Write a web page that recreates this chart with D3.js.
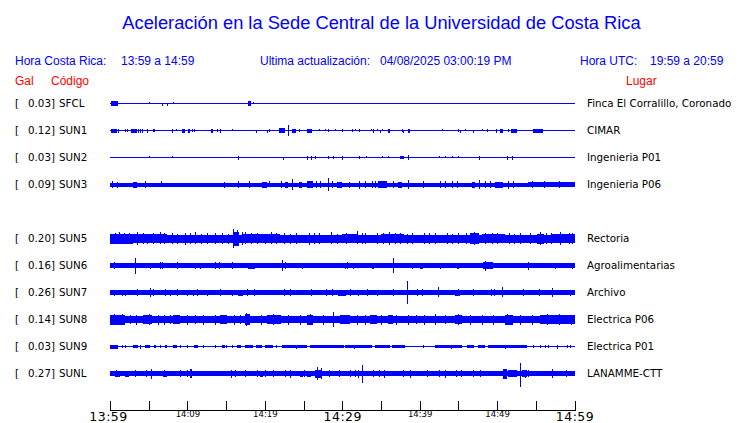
<!DOCTYPE html>
<html><head><meta charset="utf-8">
<script src="https://cdn.jsdelivr.net/npm/d3@7"></script>
<style>body{margin:0;background:#fff}svg{display:block}</style>
</head><body>
<script>
// ---------- DATA ----------
const title = "Aceleración en la Sede Central de la Universidad de Costa Rica";
const localLabel = "Hora Costa Rica:", localRange = "13:59 a 14:59";
const updLabel = "Ultima actualización:", updValue = "04/08/2025 03:00:19 PM";
const utcLabel = "Hora UTC:", utcRange = "19:59 a 20:59";

// row order of the display (SUN4 has no trace)
const rowOrder = ["SFCL","SUN1","SUN2","SUN3","SUN4","SUN5","SUN6","SUN7","SUN8","SUN9","SUNL"];
const codes  = ["SFCL","SUN1","SUN2","SUN3","SUN5","SUN6","SUN7","SUN8","SUN9","SUNL"];
const gals   = [0.03, 0.12, 0.03, 0.09, 0.20, 0.16, 0.26, 0.14, 0.03, 0.27];
const places = ["Finca El Corralillo, Coronado","CIMAR","Ingenieria P01","Ingenieria P06","Rectoria",
                "Agroalimentarias","Archivo","Electrica P06","Electrica P01","LANAMME-CTT"];

// background noise envelope (relative amplitude) per trace
const bases = [0, 0, 0, 1.5, 3.5, 1.7, 1.8, 3.2, 0, 2];

// bursts: [start minute, end minute, envelope amplitude]
const bursts = [
  [[0.1,1.0,2],[17.8,18.2,2]],
  [[0.1,0.9,1.5],[2.7,3.5,1.5],[9.3,9.7,1.5],[10.1,10.3,1.5],[13.0,13.3,1.5],[21.8,22.6,2],[23.5,24.0,1.5],
   [25.4,26.1,1.5],[35.9,36.2,1.5],[38.5,38.7,1.5],[49.9,50.0,1.5],[50.4,50.8,1.5],[51.8,52.6,1.5],[54.6,55.9,1.5]],
  [[25.4,25.6,1.5],[26.0,26.1,1.5],[37.5,38.0,1]],
  [[3.0,3.5,2.5],[19.6,20.3,2.5],[22.6,23.0,2.5],[24.4,24.8,2.5],[25.4,26.2,3],[29.3,30.0,2.5],[34.6,35.8,3],
   [37.2,37.7,2.5],[46.8,47.2,2.5],[49.7,50.8,2.5],[54,60,2]],
  [[0,3,4.5],[3,7.4,4],[16,16.6,6.5],[17,22,4],[30,32,4.2],[35,38,4.2],[46.5,47.6,5],[48,51,4.2],
   [55.2,56,4.5],[57,60,4.2]],
  [[17.8,18.7,2.5],[40,40.4,2.5],[48.2,49.5,3]],
  [[16.5,17.2,2.5],[19.8,21.6,2.3],[24.5,26.8,2.3],[29.5,30.5,2.5],[37.5,38.8,2.3],[44.6,45.2,2.5]],
  [[0,2,4.5],[4.3,5.4,4.2],[8.2,9.1,4],[14.2,15.1,3.8],[17.4,18.1,5],[20.3,22.1,4],[25.4,26.2,4.5],
   [29.7,31.0,4],[33.6,34.5,4],[35.9,36.6,4],[44.5,45.5,4],[51,52,4.5],[55.5,60,3.8]],
  [[0,1.0,1.5],[3.0,3.6,1],[4.5,5.2,1],[5.7,6.0,1],[7.1,7.3,1],[8.1,8.7,1],[10.8,11.4,1],
   [14.5,14.8,1],[16.4,16.9,1],[17.5,18.5,1],[18.8,19.6,1],[20.0,21.0,1],[22.2,25.5,1],
   [25.8,30.2,1],[30.4,33.8,1],[34.2,36.2,1],[36.4,38.1,1],[42.0,45.5,1],[46.1,47.0,1],
   [47.5,48.4,1],[48.8,50.0,1],[50.0,53.9,1]],
  [[0.6,1.3,2.5],[2.0,2.4,2.5],[6.8,7.4,2.5],[19.4,19.8,2.5],[24.5,24.9,2.5],[25.4,25.9,2.5],[26.5,27.4,3.5],
   [50.8,51.3,4.5],[51.4,52.6,3],[53.2,53.8,3]]
];

// spikes: [minute, amplitude up, amplitude down]
const spikes = [
  [[5.0,1.5,0],[6.7,0,1.5],[7.4,0,1.5],[8.1,1.5,0],[18.5,1.5,0]],
  [[1.0,1.5,1.5],[1.9,1.5,1],[2.2,1.5,1],[3.6,1.5,1.5],[3.9,1.5,1.5],[4.1,1.5,1.5],[4.8,1,1.5],[5.6,1.5,1],
   [5.7,1.5,1],[8.0,1,1.5],[8.5,1.5,0],[10.6,1.5,1],[10.9,1.5,1],[13.8,1.5,1],[14.2,1,1.5],[15.8,1.5,0],
   [18.9,0,1.5],[20.3,0,1.5],[20.5,1.5,1],[23.0,5,5],[24.4,1.5,1],[27.0,1.5,0],[27.8,1.5,0],[28.2,1.5,1],
   [29.1,1.5,0],[30.0,1.5,1],[31.3,1.5,1],[31.6,1.5,0],[32.2,1.5,1],[33.7,1.5,0],[34.0,1,1.5],[34.5,1.5,0],
   [34.9,0,1.5],[35.1,1.5,0],[37.7,1.5,1],[37.8,0,1.5],[42.9,1.5,0],[45.0,1.5,1],[45.2,0,1.5],[45.9,1.5,0],
   [46.9,0,1.5],[48.1,1.5,0],[48.7,1.5,1],[51.4,1.5,1]],
  [[5.0,1.5,0],[8.0,1.5,0],[16.5,1.5,1.5],[22.3,0,1.5],[26.5,1.5,1],[28.2,1.5,1],[28.8,1.5,1],[30.0,1.5,1.5],
   [32.2,1.5,1],[33.1,1.5,0],[35.1,1.5,0],[35.9,1.5,0],[38.5,2,2],[42.5,1.5,0],[43.3,1.5,0],[44.2,1.5,0],
   [45.0,1.5,0],[47.7,1.5,1.5],[51.3,1.5,1.5],[51.9,1.5,1.5]],
  [[0.2,3,3],[0.9,2.5,2.5],[4.5,3,3],[6.6,3,2],[14.7,2.5,2.5],[16.5,3,2.5],[18.0,3,3],[20.5,3,2],[22.1,3,2.5],
   [23.5,5,5],[26.6,3,3],[27.1,3,2.5],[28.2,6,6],[28.7,3,2.5],[30.9,2.5,2.5],[32.2,3.5,3.5],[33.0,3,2.5],
   [33.8,3,2.5],[34.2,3,3],[36.6,3,2.5],[38.5,4,4],[40.4,3,2.5],[42.6,3,2.5],[43.3,3,2.5],[44.2,3.5,3],
   [44.8,3,2.5],[47.7,4,4],[48.4,3,2.5],[49.1,3,2.5],[51.4,3.5,3.5],[52.1,3,2.5],[54.5,3,2.5],[56.1,3,2.5],
   [58.0,3.5,3]],
  [[0.6,5,5],[1.2,6,5],[1.8,5,4.5],[2.5,5.5,5],[3.5,6,6],[4.2,5,5],[4.8,4.5,5],[5.5,5.5,5],[6.5,6,5],[7.0,5,4.5],
   [8.0,5.5,5],[8.7,4.5,5],[9.7,5,5.5],[10.3,5,4.5],[11.0,6,5],[11.8,4.5,5],[12.5,5.5,5],[13.5,5,5],[14.5,5,4.5],
   [15.2,4.5,5],[15.9,9,9],[16.4,8,7],[17.0,6,6],[17.5,6,5],[18.2,5,4.5],[19.0,5.5,5],[20.0,4.5,5],[20.8,6,5],
   [21.5,5,4.5],[22.5,5,5],[23.2,4.5,5],[24.0,5.5,5],[25.7,5,5.5],[26.3,5,4.5],[27.0,5.5,5],[28.5,6,5],
   [29.3,4.5,5],[30.5,5.5,5],[31.9,7,5],[32.6,5,5],[33.0,5.5,5],[34.5,5,5],[35.2,5,4.5],[36.0,6,5.5],
   [36.8,5.5,5],[37.5,5.5,5],[38.3,4.5,5],[39.0,5,5],[40.5,5.5,5],[41.2,5,4.5],[42.0,5,5],[43.5,5.5,5],
   [44.2,4.5,5],[45.0,5,5],[46.0,5,4.5],[47.0,6.5,6],[48.5,5.5,5],[49.3,5,5],[50.0,5,5],[51.5,5.5,5],
   [52.2,4.5,5],[53.0,5,5],[54.3,5.5,5],[55.6,6.5,6],[56.3,5,5],[57.0,5,5],[58.1,6.5,6],[59.3,5.5,5],[59.7,5,4.5]],
  [[0.5,3,3],[3.2,7,8],[5.2,2.5,2.5],[6.5,3,3],[6.7,3,3],[8.6,3,3],[11.0,2.5,2.5],[11.6,2.5,2.5],[13.6,3,3],
   [14.1,3,3],[15.8,3,2.5],[22.2,5,5],[22.6,3,3],[24.8,2.5,2.5],[30.4,2.5,2.5],[30.6,3,3],[31.4,2.5,2.5],
   [33.8,2.5,2.5],[34.0,2.5,2.5],[36.6,7,7],[39.0,2.5,2.5],[42.6,2.5,2.5],[44.8,2.5,2.5],[45.0,2.5,2.5],
   [48.5,4.5,4.5],[54.0,3.5,3.5],[57.5,2.5,2.5],[59.7,2.5,2.5]],
  [[0.5,2.5,2.5],[1.5,2.5,2.5],[2.0,2.5,2.5],[3.5,3,3],[5.2,4,4],[5.6,3,3],[7.1,3,3],[7.7,2.5,2.5],[8.6,3,3],
   [10.0,2.5,2.5],[10.7,2.5,2.5],[11.3,3,3],[12.5,2.5,2.5],[14.2,3,3],[15.8,2.5,2.5],[17.7,3,3],[18.6,3,3],
   [22.5,3,3],[23.2,3,3],[26.0,3,3],[27.9,3,3],[28.7,3,3],[31.0,3,3],[32.0,2.5,2.5],[33.2,3,3],[34.5,2.5,2.5],
   [36.6,3,3],[38.4,11,11],[39.7,3,3],[40.3,3,3],[42.4,5,4],[45.0,3,3],[46.9,3,3],[49.2,3,3],[49.6,3,3],
   [50.6,5,4],[53.4,3,3],[55.4,3,3],[57.1,4,4],[59.4,2.5,2.5]],
  [[0.5,5.5,5],[1.5,5,5],[2.6,4.5,4],[3.4,4,4.5],[5.0,5,5],[6.2,4,4.5],[7.0,4.5,4.5],[7.8,4,4],[10.0,4.5,4.5],
   [11.0,4,4],[12.0,4.5,4.5],[13.5,4.5,4.5],[16.0,4.5,4.5],[16.8,4,4],[17.6,6,6],[19.5,4.5,4.5],[21.0,5.5,5],
   [23.0,4.5,4.5],[24.5,4.5,4.5],[25.8,5.5,5],[27.5,4,4.5],[28.8,7,7],[31.9,4.5,4.5],[33.0,4.5,4.5],
   [35.0,4.5,4.5],[37.0,4.5,4.5],[38.5,4.5,4.5],[39.5,4,4],[40.5,4.5,4.5],[42.0,5,5],[43.3,4,4],[45.0,5.5,5],
   [46.5,4.5,4.5],[48.0,4.5,4.5],[49.5,4.5,4.5],[51.3,5.5,5],[53.0,4.5,4.5],[54.5,4.5,4.5],[56.5,5,5],
   [58.0,5,5],[59.5,4.5,4.5]],
  [[1.5,1.5,1],[2.0,1.5,1],[3.9,1.5,1.5],[6.5,1.2,1],[9.0,1.2,1],[10.0,1.2,1],[12.0,1.2,1],[13.5,1.5,1],
   [15.0,1.2,1],[15.8,1.2,1],[21.5,1.2,1],[24.0,1.5,1.5],[31.5,1.5,1.5],[40.4,1.2,1],[44.0,1.5,1.5],
   [51.0,1.5,1.5],[54.6,1.5,1],[55.5,1.2,1],[56.2,1.5,1],[56.6,1.2,1],[57.7,1.5,1.5],[59.0,1.2,1],[59.4,1.2,1]],
  [[0.8,3,3],[3.2,3,3],[4.6,3,3],[5.3,4.5,4.5],[7.0,3,3],[9.0,3,3],[9.9,3,3],[10.3,4,4],[10.5,4,4],[15.6,3.5,3.5],
   [16.1,3,3],[17.4,3,3],[19.0,3,3],[20.0,3,3],[21.0,3,3],[22.6,3,3],[23.2,3.5,3.5],[25.0,3,3],[26.8,6,6],
   [27.2,5,5],[28.3,3,3],[29.6,3,3],[31.0,3,3],[31.6,3,3],[32.0,3.5,3.5],[32.6,8.5,8.5],[34.0,3,3],[34.7,3,3],
   [35.4,3.5,3.5],[37.8,3,3],[38.7,3.5,3.5],[41.0,3,3],[42.5,3,3],[43.3,3.5,3.5],[44.7,3,3],[45.3,3,3],
   [46.9,3,3],[47.8,3,3],[53.0,10,13],[53.6,3.5,3.5],[54.0,3,3],[57.1,4,4],[58.9,3,3]]
];

// time axis: minutes after 13:59
const tickMinutes = [0,5,10,15,20,25,30,35,40,45,50,55,60];
const tickLabels  = ["13:59","","14:09","","14:19","","14:29","","14:39","","14:49","","14:59"];
const bigLabels   = ["13:59","14:29","14:59"];

// ---------- DRAW ----------
const W = 740, H = 423;
const BLUE = "#0000ff", RED = "#ff0000";
const svg = d3.select("body").append("svg").attr("width", W).attr("height", H);

const x = d3.scaleLinear().domain([0, 60]).range([110, 574.5]);
const y = d3.scalePoint().domain(rowOrder).range([103, 373]);
const amp = d3.scaleLinear().domain([0, 20]).range([0, 20]);

const HF = "'Liberation Sans', Arial, sans-serif";
const LF = "'DejaVu Sans', sans-serif";

// header
svg.append("text").attr("x", 381.5).attr("y", 29).attr("text-anchor", "middle")
  .attr("font-family", HF).attr("font-size", 18.3).attr("fill", BLUE).text(title);
const hdr = [[15, localLabel],[121, localRange],[260, updLabel],[380, updValue],[580, utcLabel],[650, utcRange]];
svg.selectAll("text.hdr").data(hdr).join("text").attr("class","hdr")
  .attr("x", d => d[0]).attr("y", 64.5).attr("font-family", HF).attr("font-size", 12)
  .attr("fill", BLUE).text(d => d[1]);
const red = [[15, "Gal"],[51, "Código"],[626, "Lugar"]];
svg.selectAll("text.red").data(red).join("text").attr("class","red")
  .attr("x", d => d[0]).attr("y", 84.5).attr("font-family", HF).attr("font-size", 12)
  .attr("fill", RED).text(d => d[1]);

// traces
const g = svg.append("g").attr("shape-rendering", "crispEdges");
codes.forEach((code, i) => {
  const yc = y(code);
  const row = g.append("g");
  row.append("line").attr("x1", x(0)).attr("x2", x(60)).attr("y1", yc + 0.5).attr("y2", yc + 0.5)
    .attr("stroke", BLUE).attr("stroke-width", 1);
  if (bases[i] > 0) {
    row.append("rect").attr("x", x(0)).attr("width", x(60) - x(0))
      .attr("y", yc - amp(bases[i])).attr("height", 2 * amp(bases[i]) + 1).attr("fill", BLUE);
  }
  row.selectAll("rect.b").data(bursts[i]).join("rect").attr("class","b")
    .attr("x", d => x(d[0])).attr("width", d => Math.max(1, x(d[1]) - x(d[0])))
    .attr("y", d => yc - amp(d[2])).attr("height", d => 2 * amp(d[2]) + 1).attr("fill", BLUE);
  row.selectAll("line.s").data(spikes[i]).join("line").attr("class","s")
    .attr("x1", d => Math.round(x(d[0])) + 0.5).attr("x2", d => Math.round(x(d[0])) + 0.5)
    .attr("y1", d => yc - amp(d[1])).attr("y2", d => yc + 1 + amp(d[2]))
    .attr("stroke", BLUE).attr("stroke-width", 1);
  svg.append("text").attr("x", 15).attr("y", yc + 4).attr("font-family", LF).attr("font-size", 10.3).text("[");
  svg.append("text").attr("x", 55).attr("y", yc + 4).attr("text-anchor", "end").attr("font-family", LF)
    .attr("font-size", 10.3).text(gals[i].toFixed(2) + "]");
  svg.append("text").attr("x", 59).attr("y", yc + 4).attr("font-family", LF).attr("font-size", 10.3).text(code);
  svg.append("text").attr("x", 587).attr("y", yc + 4).attr("font-family", LF).attr("font-size", 10.3).text(places[i]);
});

// axis
const axis = d3.axisBottom(x).tickValues(tickMinutes).tickSizeInner(-9).tickSizeOuter(-9).tickPadding(3)
  .tickFormat((d, k) => tickLabels[k]);
const ax = svg.append("g").attr("transform", "translate(0,409.5)").call(axis);
ax.selectAll("path,line").attr("stroke", "#000").attr("shape-rendering", "crispEdges");
ax.selectAll("text").attr("font-family", LF).attr("fill", "#000")
  .attr("font-size", function(d, k){ return bigLabels.includes(tickLabels[k]) ? 12.5 : 8.5; })
  .attr("letter-spacing", function(d, k){ return bigLabels.includes(tickLabels[k]) ? 0.5 : 0; })
  .attr("dx", function(d, k){ return k === 0 ? -2 : 0; })
  .attr("dy", function(d, k){ return bigLabels.includes(tickLabels[k]) ? "0.71em" : "0.55em"; });
</script>
</body></html>
